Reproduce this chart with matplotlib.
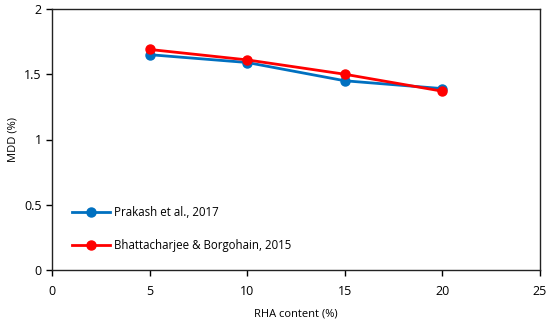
import numpy as np
import matplotlib.pyplot as plt

plt.rcParams['font.family'] = ['Open Sans', 'DejaVu Sans']

rha = [5, 10, 15, 20]
prakash = [1.65, 1.59, 1.45, 1.39]
bhatta = [1.69, 1.61, 1.50, 1.37]

fig = plt.figure(figsize=(5.5, 3.23), dpi=100)
ax = fig.add_axes([52/550, 1 - 270/323, (540-52)/550, (270-9)/323])

ax.plot(rha, prakash, color='#0070C0', lw=2, marker='o', ms=6.5,
        label='Prakash et al., 2017')
ax.plot(rha, bhatta, color='#FF0000', lw=2, marker='o', ms=6.5,
        label='Bhattacharjee & Borgohain, 2015')

ax.set_xlim(0, 25)
ax.set_ylim(0, 2)
ax.set_xticks([0, 5, 10, 15, 20, 25])
ax.set_yticks([0, 0.5, 1, 1.5, 2])
ax.set_yticklabels(['0', '0.5', '1', '1.5', '2'])
ax.tick_params(direction='out', length=4, width=1, labelsize=9, colors='black')
ax.tick_params(axis='x', pad=7)
for s in ax.spines.values():
    s.set_linewidth(1)
    s.set_color('#222222')

ax.set_xlabel('RHA content (%)', fontsize=8, labelpad=7)
ax.set_ylabel('MDD (%)', fontsize=8)

ax.legend(loc='lower left', bbox_to_anchor=(0.02, 0.03), frameon=False,
          fontsize=8.3, labelspacing=1.75, handlelength=3.3, handletextpad=0.3)

plt.savefig('out.png', dpi=100)
